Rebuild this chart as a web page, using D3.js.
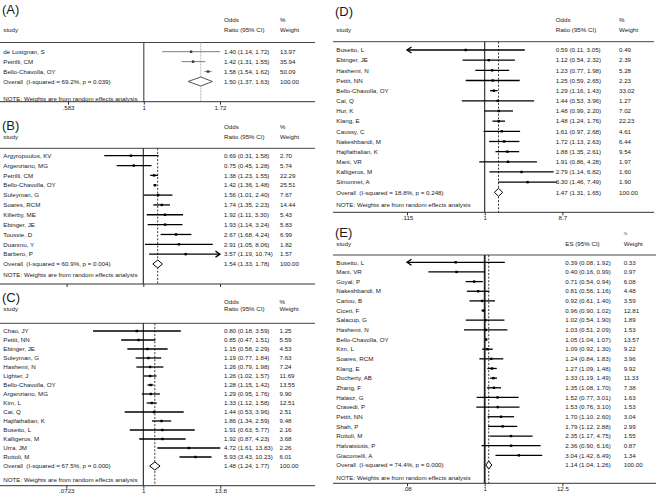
<!DOCTYPE html>
<html><head><meta charset="utf-8">
<script src="https://cdn.jsdelivr.net/npm/d3@7"></script>
<style>
html,body{margin:0;padding:0;background:#fff;}
svg text{font-family:"Liberation Sans",Arial,Helvetica,sans-serif;fill:#1a1a1a;white-space:pre;}
</style></head><body>
<svg id="c" width="667" height="495"></svg>
<script>
// ---------- Panel A ----------
const studiesA = ["de Lusignan, S","Petrilli, CM","Bello-Chavolla, OY"];
const orA = [1.40,1.42,1.58];
const loA = [1.14,1.31,1.54];
const hiA = [1.72,1.55,1.62];
const wtA = [13.97,35.94,50.09];
const overallA = [1.50,1.37,1.63];
const hetA = "Overall  (I-squared = 69.2%, p = 0.039)";
const tickValsA = [0.583,1,1.72];
const tickLabelsA = [".583","1","1.72"];
const arrowsA = [];

// ---------- Panel B ----------
const studiesB = ["Argyropoulos, KV","Argenziano, MG","Petrilli, CM","Bello-Chavolla, OY","Suleyman, G","Soares, RCM","Killerby, ME","Ebinger, JE","Toussie, D","Duanmu, Y","Barbero, P"];
const orB = [0.69,0.75,1.38,1.42,1.56,1.74,1.92,1.93,2.67,2.91,3.57];
const loB = [0.31,0.45,1.23,1.36,1.01,1.35,1.11,1.14,1.68,1.05,1.19];
const hiB = [1.58,1.28,1.55,1.48,2.40,2.23,3.30,3.24,4.24,8.06,10.74];
const wtB = [2.70,5.74,22.29,25.51,7.67,14.44,5.43,5.83,6.99,1.82,1.57];
const overallB = [1.54,1.33,1.78];
const hetB = "Overall  (I-squared = 60.9%, p = 0.004)";
const tickValsB = [0.1,1,10];
const tickLabelsB = ["","",""]; // labels are cut off in the reference
const arrowsB = ["Barbero, P"];

// ---------- Panel C ----------
const studiesC = ["Chao, JY","Pettit, NN","Ebinger, JE","Suleyman, G","Hashemi, N","Lighter, J","Bello-Chavolla, OY","Argenziano, MG","Kim, L","Cai, Q","Hajifathalian, K","Busetto, L","Kalligeros, M","Urra, JM","Rottoli, M"];
const orC = [0.80,0.85,1.15,1.19,1.26,1.26,1.28,1.29,1.33,1.44,1.86,1.91,1.92,4.72,5.93];
const loC = [0.18,0.47,0.58,0.77,0.79,1.02,1.15,0.95,1.12,0.53,1.34,0.63,0.87,1.61,3.43];
const hiC = [3.59,1.51,2.29,1.84,1.98,1.57,1.42,1.76,1.58,3.96,2.59,5.77,4.23,13.83,10.23];
const wtC = [1.25,5.59,4.53,7.63,7.24,11.69,13.55,9.90,12.51,2.51,9.48,2.16,3.68,2.26,6.01];
const overallC = [1.48,1.24,1.77];
const hetC = "Overall  (I-squared = 67.5%, p = 0.000)";
const tickValsC = [0.0723,1,13.8];
const tickLabelsC = [".0723","1","13.8"];
const arrowsC = [];

// ---------- Panel D ----------
const studiesD = ["Busetto, L","Ebinger, JE","Hashemi, N","Pettit, NN","Bello-Chavolla, OY","Cai, Q","Hur, K","Klang, E","Caussy, C","Nakeshbandi, M","Hajifathalian, K","Mani, VR","Kalligeros, M","Simonnet, A"];
const orD = [0.59,1.12,1.23,1.25,1.29,1.44,1.48,1.48,1.61,1.72,1.88,1.91,2.79,3.30];
const loD = [0.11,0.54,0.77,0.59,1.16,0.53,0.99,1.24,0.97,1.13,1.35,0.86,1.14,1.46];
const hiD = [3.05,2.32,1.98,2.65,1.43,3.96,2.20,1.76,2.68,2.63,2.61,4.28,6.82,7.49];
const wtD = [0.49,2.39,5.28,2.23,33.02,1.27,7.02,22.23,4.61,6.44,9.54,1.97,1.60,1.90];
const overallD = [1.47,1.31,1.65];
const hetD = "Overall  (I-squared = 18.8%, p = 0.248)";
const tickValsD = [0.115,1,8.7];
const tickLabelsD = [".115","1","8.7"];
const arrowsD = ["Busetto, L"];

// ---------- Panel E ----------
const studiesE = ["Busetto, L","Mani, VR","Goyal, P","Nakeshbandi, M","Cariou, B","Ciceri, F","Salacup, G","Hashemi, N","Bello-Chavolla, OY","Kim, L","Soares, RCM","Klang, E","Docherty, AB","Zhang, F","Halasz, G","Cravedi, P","Pettit, NN","Shah, P","Rottoli, M","Halvatsiotis, P","Giacomelli, A"];
const orE = [0.39,0.40,0.71,0.81,0.92,0.96,1.02,1.03,1.05,1.09,1.24,1.27,1.33,1.35,1.52,1.53,1.70,1.79,2.35,2.36,3.04];
const loE = [0.08,0.16,0.54,0.56,0.61,0.90,0.54,0.51,1.04,0.92,0.84,1.09,1.19,1.08,0.77,0.76,1.10,1.12,1.17,0.90,1.42];
const hiE = [1.92,0.99,0.94,1.16,1.40,1.02,1.90,2.09,1.07,1.30,1.83,1.48,1.49,1.70,3.01,3.10,2.60,2.88,4.75,6.16,6.49];
const wtE = [0.33,0.97,6.08,4.48,3.59,12.81,1.89,1.53,13.57,9.22,3.96,9.92,11.33,7.38,1.63,1.53,3.04,2.99,1.55,0.87,1.34];
const overallE = [1.14,1.04,1.26];
const hetE = "Overall  (I-squared = 74.4%, p = 0.000)";
const tickValsE = [0.08,1,12.5];
const tickLabelsE = [".08","1","12.5"];
const arrowsE = ["Busetto, L"];

const note = "NOTE: Weights are from random effects analysis";
const f2 = d3.format(".2f");
const svg = d3.select("#c");
const FS = 6.2;

function panel(L, D) {
  const g = svg.append("g");
  const x = d3.scaleLog().domain([D.ticks[0], D.ticks[2]]).range([L.nullX - L.half, L.nullX + L.half]);
  const n = D.names.length;
  const y = d3.scaleLinear().domain([0, n]).range([L.first, L.overall]);
  const ink = L.light ? "#5a5a5a" : "#000";
  const txt = (xx, yy, s, size) => g.append("text").attr("x", xx).attr("y", yy).style("font-size", (size||FS) + "px").text(s);

  txt(L.left + 2, L.letterBase, D.letter, 13);
  if (D.es) {
    txt(L.colW, L.oddsY + 1.5, "%", 4);
    txt(L.colR, L.ratioY + 2.2, "ES (95% CI)");
  } else {
    txt(L.colR, L.oddsY + 2.2, "Odds");
    txt(L.colW, L.oddsY + 2.2, "%");
    txt(L.colR, L.ratioY + 2.2, "Ratio (95% CI)");
  }
  txt(L.left + 3.3, L.ratioY + 2.2, "study");
  txt(L.colW, L.ratioY + 2.2, "Weight");

  // top rule
  g.append("line").attr("x1", L.left).attr("x2", L.right).attr("y1", L.top).attr("y2", L.top)
    .attr("stroke", "#444").attr("stroke-width", 1);
  // null line
  g.append("line").attr("x1", x(1)).attr("x2", x(1)).attr("y1", L.top).attr("y2", L.axis)
    .attr("stroke", L.light ? "#444" : "#222").attr("stroke-width", L.nullW || 1.1);
  // overall dashed line
  g.append("line").attr("x1", x(D.overall[0])).attr("x2", x(D.overall[0])).attr("y1", L.top).attr("y2", L.axis)
    .attr("stroke", L.light ? "#b5b5b5" : "#222").attr("stroke-width", L.light ? 1 : 0.9)
    .attr("stroke-dasharray", L.light ? "2,1" : "2,1.6");

  // rows
  D.names.forEach((nm, i) => {
    const yy = y(i);
    txt(L.left + 3.3, yy + 2.2, nm);
    txt(L.colR, yy + 2.2, f2(D.or[i]) + " (" + f2(D.lo[i]) + ", " + f2(D.hi[i]) + ")");
    txt(L.colW, yy + 2.2, f2(D.wt[i]));
    const [d0, d1] = x.domain();
    const xa = x(Math.max(D.lo[i], d0)), xb = x(Math.min(D.hi[i], d1));
    g.append("line").attr("x1", xa).attr("x2", xb).attr("y1", yy).attr("y2", yy)
      .attr("stroke", ink).attr("stroke-width", L.light ? 0.8 : 1.3);
    if (D.arrows.includes(nm)) {
      const right = D.hi[i] > d1 * 0.9;
      const tip = right ? xb : xa, s = right ? -1 : 1;
      g.append("path").attr("d", `M${tip + s*4.5},${yy-3}L${tip},${yy}L${tip + s*4.5},${yy+3}`)
        .attr("fill", "none").attr("stroke", ink).attr("stroke-width", 1.3);
    }
    g.append("rect").attr("x", x(D.or[i]) - 1.2).attr("y", yy - 1.2).attr("width", 2.4).attr("height", 2.4)
      .attr("fill", L.light ? "#333" : "#000");
  });

  // overall
  const yo = L.overall, h = L.light ? 4.5 : 4;
  txt(L.left + 3.3, yo + 2.2, D.het);
  txt(L.colR, yo + 2.2, f2(D.overall[0]) + " (" + f2(D.overall[1]) + ", " + f2(D.overall[2]) + ")");
  txt(L.colW, yo + 2.2, "100.00");
  g.append("path")
    .attr("d", `M${x(D.overall[1])},${yo}L${x(D.overall[0])},${yo-h}L${x(D.overall[2])},${yo}L${x(D.overall[0])},${yo+h}Z`)
    .attr("fill", "#fff").attr("stroke", L.light ? "#555" : "#000").attr("stroke-width", 1);

  txt(L.left + 3.3, L.note + 2.2, note);

  // axis
  g.append("line").attr("x1", L.left).attr("x2", L.right).attr("y1", L.axis).attr("y2", L.axis)
    .attr("stroke", "#333").attr("stroke-width", 1);
  const ax = d3.axisBottom(x).tickValues(D.ticks).tickFormat((v, i) => D.tickLabels[i]).tickSize(3).tickPadding(1.5);
  const ag = g.append("g").attr("transform", `translate(0,${L.axis})`).call(ax);
  ag.select(".domain").remove();
  ag.selectAll(".tick line").attr("stroke", "#333");
  ag.selectAll(".tick text").attr("y", L.tickLab - L.axis + 2.2).attr("dy", null)
    .style("font-size", FS + "px").style("font-family", '"Liberation Sans",Arial,sans-serif').attr("fill", "#1a1a1a");
  if (L.hideTickLabels) ag.selectAll(".tick text").remove();
}

panel({left:0,right:315,letterBase:14,oddsY:19.3,ratioY:29.3,top:42.5,first:51.7,overall:81.5,note:98.3,axis:101.7,tickLab:108.3,nullX:144,half:76,colR:224,colW:280,light:true},
      {letter:"(A)",names:studiesA,or:orA,lo:loA,hi:hiA,wt:wtA,overall:overallA,het:hetA,ticks:tickValsA,tickLabels:tickLabelsA,arrows:arrowsA});
panel({left:0,right:315,letterBase:130,oddsY:126.7,ratioY:136.7,top:148.3,first:155.7,overall:264,note:275,axis:284,tickLab:291,nullX:143.3,half:76.7,colR:224,colW:280,hideTickLabels:true},
      {letter:"(B)",names:studiesB,or:orB,lo:loB,hi:hiB,wt:wtB,overall:overallB,het:hetB,ticks:tickValsB,tickLabels:tickLabelsB,arrows:arrowsB});
panel({left:0,right:315,letterBase:302.3,oddsY:301.7,ratioY:308.6,top:323.3,first:331,overall:466,note:479.3,axis:485.7,tickLab:490.7,nullX:143.3,half:77,colR:224,colW:279.5},
      {letter:"(C)",names:studiesC,or:orC,lo:loC,hi:hiC,wt:wtC,overall:overallC,het:hetC,ticks:tickValsC,tickLabels:tickLabelsC,arrows:arrowsC});
panel({left:333,right:654,letterBase:15.5,oddsY:19.3,ratioY:29.3,top:41.7,first:50,overall:192.3,note:204.3,axis:212.3,tickLab:218.3,nullX:484.7,half:77.7,colR:555.7,colW:619},
      {letter:"(D)",names:studiesD,or:orD,lo:loD,hi:hiD,wt:wtD,overall:overallD,het:hetD,ticks:tickValsD,tickLabels:tickLabelsD,arrows:arrowsD});
panel({left:333,right:656,letterBase:237,oddsY:233.3,ratioY:243.3,top:255,first:262.3,overall:465,note:477.7,axis:483.3,tickLab:489,nullX:484.7,half:77.7,colR:565.3,colW:623.7,nullW:1.8},
      {letter:"(E)",es:true,names:studiesE,or:orE,lo:loE,hi:hiE,wt:wtE,overall:overallE,het:hetE,ticks:tickValsE,tickLabels:tickLabelsE,arrows:arrowsE});
</script>
</body></html>
